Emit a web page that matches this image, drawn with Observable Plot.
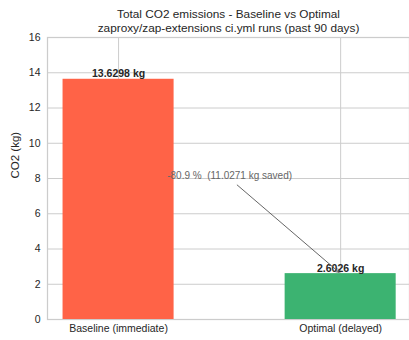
<!DOCTYPE html>
<html>
<head>
<meta charset="utf-8">
<script src="https://cdn.jsdelivr.net/npm/d3@7"></script>
<script src="https://cdn.jsdelivr.net/npm/@observablehq/plot@0.6"></script>
<style>
  html, body { margin: 0; padding: 0; background: #fff; }
  #chart svg { display: block; }
</style>
</head>
<body>
<div id="chart"></div>
<script>
const categories = ["Baseline (immediate)", "Optimal (delayed)"];
const emissions = [13.6298, 2.6026];
const barColors = ["#FF6347", "#3CB371"];
const barLabels = ["13.6298 kg", "2.6026 kg"];
const yTicks = [0, 2, 4, 6, 8, 10, 12, 14, 16];
const titleLines = ["Total CO2 emissions - Baseline vs Optimal", "zaproxy/zap-extensions ci.yml runs (past 90 days)"];
const yLabel = "CO2 (kg)";
const annotationText = "-80.9 %  (11.0271 kg saved)";
const annotationAt = [0.5, 8];      // text anchor (category index, kg)
const annotationTarget = [1, 2.6026]; // arrow tip

const bars = categories.map((c, i) => ({i, c, v: emissions[i], color: barColors[i], label: barLabels[i]}));

const font = "'Liberation Sans', Arial, 'DejaVu Sans', sans-serif";
const ink = "#262626";
const grid = "#cccccc";

const chart = Plot.plot({
  width: 409,
  height: 340,
  marginLeft: 47,
  marginRight: 0,
  marginTop: 37,
  marginBottom: 21,
  style: {fontFamily: font, fontSize: "10px", color: ink, background: "#fff"},
  x: {type: "linear", domain: [-0.32, 1.31], axis: null},
  y: {domain: [0, 16], axis: null},
  marks: [
    // grid
    Plot.ruleY(yTicks, {stroke: grid, strokeWidth: 1}),
    Plot.ruleX(bars, {x: "i", stroke: grid, strokeWidth: 1}),
    // spines
    Plot.frame({stroke: grid, strokeWidth: 1.25}),
    // bars
    Plot.rectY(bars, {x1: d => d.i - 0.25, x2: d => d.i + 0.25, y1: 0, y2: "v", fill: "color"}),
    // bar labels
    Plot.text(bars, {x: "i", y: "v", text: "label", fontWeight: "bold", fontSize: 10.5, fill: ink, lineAnchor: "bottom", dy: -2}),
    // annotation
    Plot.arrow([0], {
      x1: () => annotationAt[0], y1: () => annotationAt[1],
      x2: () => annotationTarget[0], y2: () => annotationTarget[1],
      stroke: "#555", strokeWidth: 0.9, headLength: 6, insetStart: 10, insetEnd: 2, bend: 0
    }),
    Plot.text([annotationText], {x: () => annotationAt[0], y: () => annotationAt[1], text: d => d, fill: "#666", fontSize: 10, lineAnchor: "bottom", dy: 0}),
    // y tick labels
    Plot.text(yTicks, {x: -0.32, y: d => d, text: d => String(d), textAnchor: "end", dx: -7, fill: ink, fontSize: 10.5}),
    // x tick labels
    Plot.text(bars, {x: "i", frameAnchor: "bottom", text: "c", lineAnchor: "top", dy: 5, fill: ink, fontSize: 10.5}),
    // y label
    Plot.text([yLabel], {frameAnchor: "left", text: d => d, rotate: -90, dx: -32, fill: ink, fontSize: 11.5}),
    // title
    Plot.text([titleLines[0]], {frameAnchor: "top", text: d => d, dy: -20, lineAnchor: "bottom", fill: ink, fontSize: 11.8}),
    Plot.text([titleLines[1]], {frameAnchor: "top", text: d => d, dy: -6, lineAnchor: "bottom", fill: ink, fontSize: 11.8})
  ]
});
document.getElementById("chart").appendChild(chart);
</script>
</body>
</html>
